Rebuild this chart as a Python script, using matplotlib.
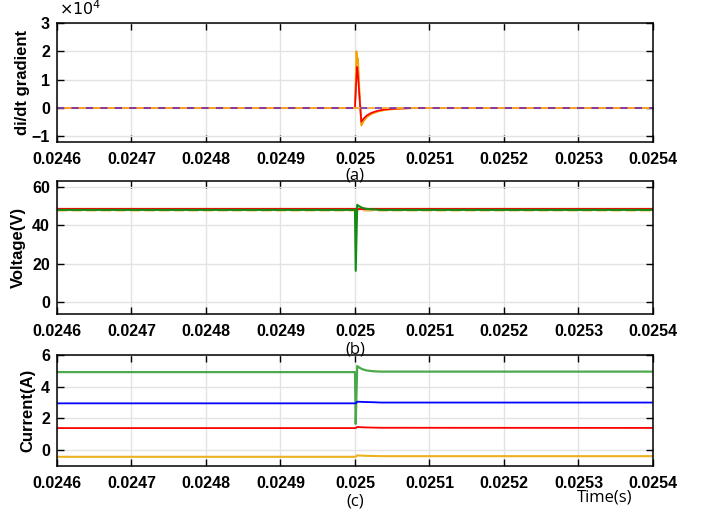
import numpy as np
import matplotlib.pyplot as plt
from matplotlib.ticker import FixedLocator, FixedFormatter

# time axis ticks
xticks = [0.0246, 0.0247, 0.0248, 0.0249, 0.0250, 0.0251, 0.0252, 0.0253, 0.0254]
xlabels = ['0.0246', '0.0247', '0.0248', '0.0249', '0.025',
           '0.0251', '0.0252', '0.0253', '0.0254']

# (a) di/dt gradient, in units of 1e4
t_a = [0.0246, 0.02500, 0.025002, 0.025003, 0.025004, 0.025006, 0.0250085,
       0.025012, 0.025016, 0.025022, 0.02503, 0.02504, 0.025055, 0.02508, 0.0254]
grad_orange = [0, 0, 2.0, 1.6, 1.75, 0.6, -0.62, -0.45, -0.32, -0.21, -0.13,
               -0.07, -0.03, 0, 0]
grad_red = [0, 0, 1.1, 1.45, 1.15, 0.4, -0.48, -0.36, -0.26, -0.17, -0.1,
            -0.05, -0.02, 0, 0]
grad_gray = [0, 0, 1.5, 1.3, 1.4, 0.5, -0.55, -0.4, -0.29, -0.19, -0.11,
             -0.06, -0.02, 0, 0]
grad_base = [0, 0]
t_base = [0.0246, 0.0254]

# (b) voltages
t_b = [0.0246, 0.02500, 0.025001, 0.025003, 0.025006, 0.02501, 0.025016,
       0.025025, 0.025035, 0.0254]
v_green = [48.0, 48.0, 16.3, 50.6, 49.8, 49.0, 48.5, 48.2, 48.0, 48.0]
v_red = [48.2, 48.2, 48.2, 48.2, 48.2, 48.2, 48.2, 48.2, 48.2, 48.2]
v_yellow = [47.6, 47.6, 47.6, 47.9, 47.8, 47.7, 47.6, 47.6, 47.6, 47.6]

# (c) currents
t_c = [0.0246, 0.02500, 0.025001, 0.025003, 0.025006, 0.02501, 0.025016,
       0.025025, 0.025035, 0.0254]
i_green = [4.92, 4.92, 1.65, 5.3, 5.2, 5.1, 5.02, 4.97, 4.95, 4.95]
i_blue = [2.95, 2.95, 2.95, 3.05, 3.05, 3.04, 3.03, 3.02, 3.0, 3.0]
i_red = [1.39, 1.39, 1.39, 1.46, 1.45, 1.44, 1.43, 1.42, 1.41, 1.4]
i_yellow = [-0.42, -0.42, -0.42, -0.33, -0.34, -0.35, -0.36, -0.37, -0.38, -0.38]

GREEN = '#138a13'
BLUE = '#0000ff'
RED = '#ff0000'
YELLOW = '#edb120'
ORANGE = '#f5a000'

tick_font = dict(family='Liberation Sans', weight='bold', size=11.5)
label_font = dict(family='Liberation Sans', weight='bold', size=12)
cap_font = dict(family='Open Sans', size=12)

fig = plt.figure(figsize=(7.06, 5.14), dpi=100)
ax_a = fig.add_axes([0.0807, 0.7237, 0.8442, 0.2315])
ax_b = fig.add_axes([0.0807, 0.3890, 0.8442, 0.2588])
ax_c = fig.add_axes([0.0807, 0.0934, 0.8442, 0.2160])


def style_axis(ax, yticks):
    ax.set_xlim(0.0246, 0.0254)
    ax.xaxis.set_major_locator(FixedLocator(xticks))
    ax.xaxis.set_major_formatter(FixedFormatter(xlabels))
    ax.set_yticks(yticks)
    ax.tick_params(direction='in', top=True, right=True, length=5,
                   width=1, pad=7)
    ax.tick_params(axis='y', pad=5)
    for lab in ax.get_xticklabels() + ax.get_yticklabels():
        lab.set_fontproperties(tick_font)
    ax.grid(True, color='#e3e3e3', linewidth=1)
    ax.set_axisbelow(True)
    for s in ax.spines.values():
        s.set_linewidth(1.1)


# (a)
ax_a.plot(t_a, grad_gray, color='#b08ab0', lw=1.2)
ax_a.plot(t_a, grad_orange, color=ORANGE, lw=1.3)
ax_a.plot(t_a, grad_red, color=RED, lw=1.2)
ax_a.plot(t_base, grad_base, color='#7a3fb0', ls=(0, (4, 4)), lw=1.3)
ax_a.plot(t_base, grad_base, color='#f5b030', ls=(4, (4, 4)), lw=1.3)
ax_a.set_ylim(-1.2, 3)
style_axis(ax_a, [-1, 0, 1, 2, 3])
ax_a.set_ylabel('di/dt gradient', fontdict=label_font)
ax_a.yaxis.set_label_coords(-0.046, 0.5)
fig.text(0.084, 0.965, r'$\times 10^4$', fontsize=11.5, ha='left', va='bottom')
fig.text(0.503, 0.659, '(a)', ha='center', va='center', **cap_font)

# (b)
ax_b.plot(t_b, v_yellow, color='#f2c870', lw=1.5, ls=(0, (5, 2)))
ax_b.plot(t_b, v_red, color=RED, lw=1.6)
ax_b.plot(t_b, v_green, color=GREEN, lw=1.5)
ax_b.set_ylim(-6.2, 63)
style_axis(ax_b, [0, 20, 40, 60])
ax_b.set_ylabel('Voltage(V)', fontdict=label_font)
ax_b.yaxis.set_label_coords(-0.052, 0.5)
fig.text(0.503, 0.321, '(b)', ha='center', va='center', **cap_font)

# (c)
ax_c.plot(t_c, i_green, color='#2e9a2e', lw=1.6, alpha=0.85)
ax_c.plot(t_c, i_blue, color=BLUE, lw=1.3)
ax_c.plot(t_c, i_red, color=RED, lw=1.3)
ax_c.plot(t_c, i_yellow, color=YELLOW, lw=1.5)
ax_c.set_ylim(-1.0, 6)
style_axis(ax_c, [0, 2, 4, 6])
ax_c.set_ylabel('Current(A)', fontdict=label_font)
ax_c.yaxis.set_label_coords(-0.037, 0.5)
fig.text(0.503, 0.025, '(c)', ha='center', va='center', **cap_font)
fig.text(0.857, 0.033, 'Time(s)', ha='center', va='center', **cap_font)

fig.savefig('out.png', dpi=100)
